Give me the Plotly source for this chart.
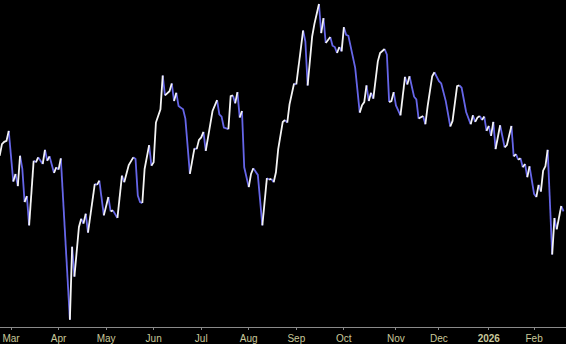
import plotly.graph_objects as go

# Trading-session index (0 = first session of March 2025) and closing value
session = [-5, -4, -3, -2, -1, 1, 2, 3, 4, 5, 6, 7, 8, 10, 11, 12, 14, 15, 16, 17,
           19, 20, 21, 22, 26, 27, 28, 30, 31, 32, 33, 34, 37, 38, 39, 41, 43, 44, 45, 47,
           49, 50, 52, 54, 55, 56, 57, 58, 59, 61, 62, 63, 64, 66, 67, 68, 69, 70, 71, 72,
           73, 74, 75, 76, 77, 79, 81, 82, 83, 84, 85, 86, 87, 88, 89, 91, 92, 93, 94, 96,
           97, 98, 99, 100, 101, 102, 103, 105, 106, 107, 109, 111, 113, 114, 115, 116, 117, 118, 120, 121,
           122, 123, 125, 126, 129, 130, 131, 133, 134, 136, 137, 138, 139, 141, 142, 143, 144, 145, 146, 147,
           148, 149, 152, 154, 155, 156, 157, 158, 159, 160, 162, 163, 165, 166, 167, 168, 169, 170, 172, 174,
           175, 176, 178, 179, 180, 182, 183, 184, 186, 187, 189, 190, 192, 194, 195, 197, 198, 199, 201, 202,
           203, 204, 205, 206, 207, 208, 209, 210, 211, 212, 213, 214, 216, 218, 219, 221, 222, 223, 224, 225,
           226, 227, 228, 229, 231, 232, 233, 234, 235, 236, 237, 239, 240, 241, 243, 244]
value = [37.23, 38.40, 38.63, 38.73, 39.73, 34.63, 35.40, 34.17, 37.23, 35.90, 32.57, 33.17, 30.23, 36.73, 36.57, 37.07, 36.40, 37.83, 36.73, 37.17,
         35.50, 36.07, 35.83, 36.97, 20.73, 28.07, 25.07, 30.07, 30.90, 30.40, 31.40, 29.50, 34.40, 34.30, 34.73, 31.23, 33.07, 31.63, 31.73, 30.97,
         35.23, 34.57, 36.30, 37.07, 36.90, 33.23, 32.57, 32.47, 35.90, 38.30, 36.23, 36.57, 40.57, 41.90, 45.30, 43.30, 43.50, 43.73, 44.50, 42.73,
         43.57, 42.23, 42.07, 41.90, 40.97, 35.40, 37.97, 37.90, 38.83, 39.07, 39.63, 37.73, 39.07, 40.07, 41.73, 42.83, 41.40, 41.17, 40.07, 39.90,
         43.23, 43.30, 42.50, 43.63, 41.07, 41.73, 36.07, 34.07, 35.40, 35.97, 35.30, 30.23, 34.97, 34.83, 34.90, 34.57, 35.57, 37.90, 40.63, 40.83,
         40.57, 42.40, 44.50, 44.40, 49.83, 48.73, 44.30, 49.23, 50.50, 52.50, 49.57, 51.07, 48.57, 49.17, 48.30, 48.17, 47.57, 48.17, 47.73, 50.17,
         49.40, 49.30, 46.07, 41.57, 42.30, 42.63, 44.30, 42.73, 43.57, 42.97, 46.73, 47.57, 47.97, 47.40, 42.63, 42.73, 43.63, 42.30, 41.30, 45.17,
         44.40, 45.23, 43.17, 42.90, 40.97, 41.23, 40.40, 42.23, 45.23, 45.63, 44.73, 44.50, 42.73, 40.17, 40.73, 44.23, 44.30, 44.07, 41.63, 41.07,
         40.40, 41.30, 40.63, 41.07, 41.23, 40.83, 41.17, 39.73, 40.23, 39.23, 40.63, 37.90, 40.30, 38.07, 38.30, 40.23, 37.17, 37.40, 36.83, 36.97,
         36.07, 36.40, 35.07, 36.17, 33.40, 33.07, 34.30, 33.63, 35.73, 36.17, 37.83, 27.30, 30.97, 29.83, 32.17, 31.63]

tick_sessions = [0, 21, 42, 63, 84, 105, 126, 147, 170, 189, 211, 231]
tick_labels = ["Mar", "Apr", "May", "Jun", "Jul", "Aug", "Sep", "Oct", "Nov", "Dec", "<b>2026</b>", "Feb"]

UP = "#f4f4f4"
DOWN = "#6666e8"

# Split the line into runs of rising / falling segments
up_x, up_y, dn_x, dn_y = [], [], [], []
i = 0
n = len(session)
while i < n - 1:
    rising = value[i + 1] >= value[i]
    j = i
    while j < n - 1 and (value[j + 1] >= value[j]) == rising:
        j += 1
    xs = session[i:j + 1]
    ys = value[i:j + 1]
    if rising:
        up_x += xs + [None]
        up_y += ys + [None]
    else:
        dn_x += xs + [None]
        dn_y += ys + [None]
    i = j

fig = go.Figure()
fig.add_trace(go.Scatter(x=dn_x, y=dn_y, mode="lines", line=dict(color=DOWN, width=1.8),
                         hoverinfo="skip", showlegend=False))
fig.add_trace(go.Scatter(x=up_x, y=up_y, mode="lines", line=dict(color=UP, width=1.8),
                         hoverinfo="skip", showlegend=False))

fig.update_layout(
    width=566, height=344,
    margin=dict(l=0, r=0, t=0, b=15),
    paper_bgcolor="black", plot_bgcolor="black",
    showlegend=False,
    xaxis=dict(
        range=[-4.86, 245.1],
        tickmode="array", tickvals=tick_sessions, ticktext=tick_labels,
        showgrid=False, zeroline=False,
        showline=True, linecolor="#8a8a8a", linewidth=1,
        ticks="outside", ticklen=2, tickcolor="#8a8a8a",
        tickfont=dict(family="Liberation Sans", size=10, color="#c8c89a"),
    ),
    yaxis=dict(range=[20.0, 52.9], visible=False, showgrid=False, zeroline=False),
)

fig.write_html("out.html")
